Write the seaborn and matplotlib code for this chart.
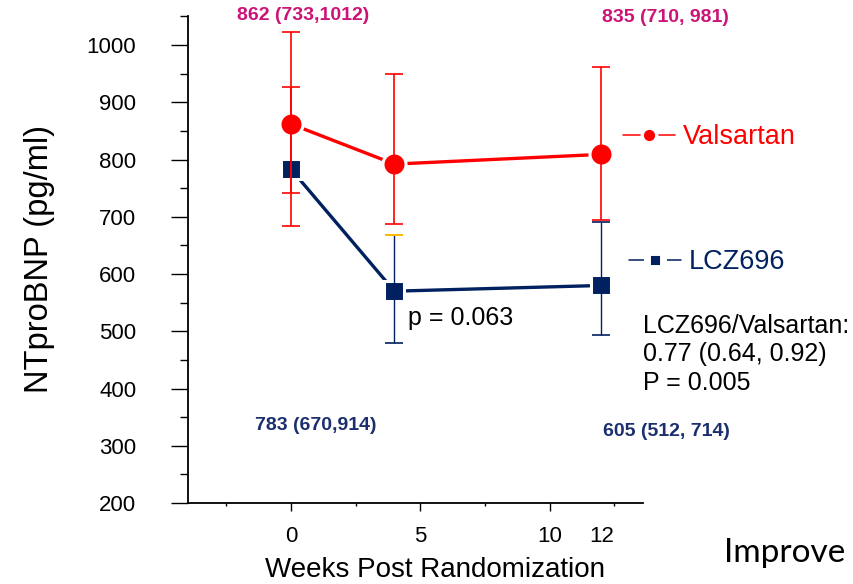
import matplotlib
matplotlib.use("Agg")
import matplotlib.pyplot as plt
from matplotlib.lines import Line2D
from matplotlib.ticker import FixedLocator
import pandas as pd
import seaborn as sns

# NTproBNP over time by treatment arm
weeks = [0, 4, 12]
valsartan_mean = [862, 792, 809]
valsartan_lo = [683, 688, 694]
valsartan_hi = [1023, 949, 961]
lcz696_mean = [783, 570, 580]
lcz696_lo = [742, 480, 493]
lcz696_hi = [926, 668, 690]

arms = ["Valsartan", "LCZ696"]
x_ticks = [0, 5, 10, 12]
x_ticklabels = ["0", "5", "10", "12"]
y_ticks = list(range(200, 1001, 100))

valsartan_labels = ["862 (733,1012)", "835 (710, 981)"]
lcz696_labels = ["783 (670,914)", "605 (512, 714)"]
p_week4 = "p = 0.063"
ratio_lines = ["LCZ696/Valsartan:", "0.77 (0.64, 0.92)", "P = 0.005"]
side_caption = "Improve"

RED = "#FF0000"
NAVY = "#002060"
GOLD = "#FFC000"
MAGENTA = "#CC1478"
LABEL_NAVY = "#1B2F6E"

sns.set_theme(style="ticks")
plt.rcParams["font.family"] = ["Liberation Sans", "DejaVu Sans"]

W, H = 854, 584
fig = plt.figure(figsize=(W / 100, H / 100), dpi=100)


def fx(px):
    return px / W


def fy(py):
    return 1 - py / H


ax = fig.add_axes([fx(187.6), fy(503), (642.6 - 187.6) / W, (503 - 16.4) / H])

df = pd.DataFrame({
    "week": weeks * 2,
    "value": valsartan_mean + lcz696_mean,
    "arm": [arms[0]] * 3 + [arms[1]] * 3,
})

# mean trajectories
sns.lineplot(data=df[df["arm"] == "Valsartan"], x="week", y="value", ax=ax,
             color=RED, lw=2.4, marker="o", markersize=16.6,
             markeredgecolor="white", markeredgewidth=2.2,
             errorbar=None, legend=False, zorder=3)
sns.lineplot(data=df[df["arm"] == "LCZ696"], x="week", y="value", ax=ax,
             color=NAVY, lw=2.4, marker="s", markersize=14.6,
             markeredgecolor="white", markeredgewidth=2.2,
             errorbar=None, legend=False, zorder=3)

# interval bars
eb = dict(fmt="none", elinewidth=1.2, capsize=6.5, capthick=1.2, zorder=4)
ax.errorbar(weeks, valsartan_mean,
            yerr=[[m - lo for m, lo in zip(valsartan_mean, valsartan_lo)],
                  [hi - m for m, hi in zip(valsartan_mean, valsartan_hi)]],
            ecolor=RED, **eb)
ax.errorbar(weeks[:1], lcz696_mean[:1],
            yerr=[[lcz696_mean[0] - lcz696_lo[0]], [lcz696_hi[0] - lcz696_mean[0]]],
            ecolor=RED, **eb)
ax.errorbar(weeks[1:], lcz696_mean[1:],
            yerr=[[m - lo for m, lo in zip(lcz696_mean[1:], lcz696_lo[1:])],
                  [hi - m for m, hi in zip(lcz696_mean[1:], lcz696_hi[1:])]],
            ecolor=NAVY, **dict(eb, elinewidth=1.0))
ax.plot([weeks[1]], [lcz696_hi[1]], marker="_", ms=13, mew=1.4, color=GOLD,
        linestyle="none", zorder=5)

# axes
ax.set_xlim(-4, 13.6)
ax.set_ylim(200, 1050)
ax.set_xticks(x_ticks)
ax.set_xticklabels(x_ticklabels)
ax.xaxis.set_minor_locator(FixedLocator([-2.5, 2.5, 7.5, 12.5]))
ax.set_yticks(y_ticks)
ax.set_yticklabels([str(v) for v in y_ticks])
ax.yaxis.set_minor_locator(FixedLocator(list(range(250, 1051, 100))))
ax.tick_params(axis="x", which="major", length=5.8, width=1, pad=11,
               labelsize=16, color="black", labelcolor="black")
ax.tick_params(axis="x", which="minor", length=2.2, width=1, color="black")
ax.tick_params(axis="y", which="major", length=12, width=1, pad=25,
               labelsize=16, color="black", labelcolor="black")
ax.tick_params(axis="y", which="minor", length=5.8, width=1, color="black")
ax.xaxis.get_major_ticks()[3].tick1line.set_visible(False)
sns.despine(ax=ax)
for side in ("left", "bottom"):
    ax.spines[side].set_linewidth(1.3)
    ax.spines[side].set_color("black")
ax.set_facecolor("white")

ax.set_xlabel("Weeks Post Randomization", fontsize=20, color="black")
ax.xaxis.set_label_coords((435 - 187.6) / 455, (503 - 557) / 486.6)
ax.set_ylabel("NTproBNP (pg/ml)", fontsize=23.5, color="black", va="center")
ax.yaxis.set_label_coords((40 - 187.6) / 455, (503 - 259) / 486.6)

# legend entries beside the lines
h_val = Line2D([], [], color=RED, lw=1.1, marker="o", ms=10.5,
               markeredgecolor="white", markeredgewidth=2.4)
h_lcz = Line2D([], [], color=NAVY, lw=1.1, marker="s", ms=11,
               markeredgecolor="white", markeredgewidth=5)
leg_kw = dict(frameon=False, borderpad=0, borderaxespad=0, fontsize=19.5,
              handlelength=1.92, handletextpad=0.3, loc="center left",
              bbox_transform=fig.transFigure)
leg1 = ax.legend([h_val], [arms[0]], bbox_to_anchor=(fx(623), fy(137)), **leg_kw)
for t in leg1.get_texts():
    t.set_color(RED)
ax.add_artist(leg1)
leg2 = ax.legend([h_lcz], [arms[1]], bbox_to_anchor=(fx(629), fy(262)), **leg_kw)
for t in leg2.get_texts():
    t.set_color(NAVY)

# summary annotations
fig.text(fx(303), fy(16), valsartan_labels[0], color=MAGENTA, fontsize=14,
         fontweight="bold", ha="center", va="center")
fig.text(fx(665), fy(17), valsartan_labels[1], color=MAGENTA, fontsize=14,
         fontweight="bold", ha="center", va="center")
fig.text(fx(316), fy(425), lcz696_labels[0], color=LABEL_NAVY, fontsize=14,
         fontweight="bold", ha="center", va="center")
fig.text(fx(666), fy(432), lcz696_labels[1], color=LABEL_NAVY, fontsize=14,
         fontweight="bold", ha="center", va="center")
fig.text(fx(408), fy(325), p_week4, color="black", fontsize=18,
         ha="left", va="baseline")
for line, base in zip(ratio_lines, (333, 361, 390)):
    fig.text(fx(643), fy(base), line, color="black", fontsize=18,
             ha="left", va="baseline")
fig.text(fx(724), fy(562), side_caption, color="black", fontsize=24,
         family=["Lato", "DejaVu Sans"], ha="left", va="baseline")

fig.savefig("out.png", dpi=100, facecolor="white")
